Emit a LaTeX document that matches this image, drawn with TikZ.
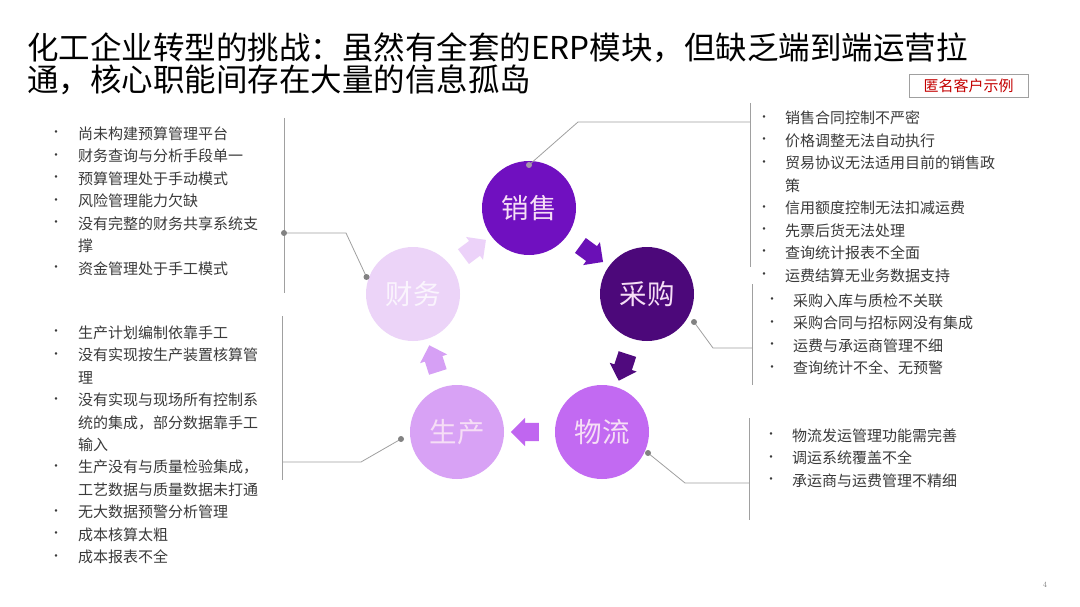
\documentclass[tikz,border=0pt]{standalone}
\usepackage{fontspec}
\newfontfamily\cjk{Noto Sans CJK SC}
\usetikzlibrary{shapes.arrows,calc}
\definecolor{cXS}{RGB}{112,16,192}
\definecolor{cCG}{RGB}{76,8,122}
\definecolor{cWL}{RGB}{194,106,242}
\definecolor{cSC}{RGB}{216,162,245}
\definecolor{cCW}{RGB}{236,212,248}
\definecolor{aXS}{RGB}{106,16,182}
\definecolor{aCG}{RGB}{80,10,126}
\definecolor{aWL}{RGB}{192,102,240}
\definecolor{aSC}{RGB}{214,160,245}
\definecolor{aCW}{RGB}{236,210,249}
\definecolor{ctxt}{RGB}{246,222,246}
\definecolor{ltxt}{RGB}{250,244,253}
\definecolor{lgray}{RGB}{160,160,160}
\definecolor{dgray}{RGB}{130,130,130}
\definecolor{pgray}{RGB}{165,150,170}
\definecolor{listtxt}{RGB}{58,58,58}
\definecolor{redtxt}{RGB}{196,0,0}
\newcommand\bul{\raisebox{2.6pt}{\fontsize{12}{12}\selectfont •}}
\begin{document}
\begin{tikzpicture}[x=1pt,y=-1pt,
  circ/.style={circle, minimum size=94pt, inner sep=0pt, font=\cjk\fontsize{27.5}{27.5}\selectfont},
  blk/.style={single arrow, minimum height=28pt, inner sep=0pt, single arrow head extend=5pt, sloped, allow upside down, draw=none},
  brk/.style={draw=lgray, line width=0.9pt},
  conn/.style={draw=lgray, line width=0.8pt},
  dotc/.style={fill=dgray},
  lst/.style={anchor=base west, inner sep=0pt, text=listtxt, font=\cjk\fontsize{15}{22.45}\selectfont},
  ttl/.style={anchor=base west, inner sep=0pt, text=black, font=\cjk\fontsize{31.5}{32}\selectfont}
]
\useasboundingbox (0,0) rectangle (1080,607);
\fill[white] (0,0) rectangle (1080,607);

% title
\node[ttl] (t1) at (27,60) {化工企业转型的挑战：虽然有全套的ERP模块，但缺乏端到端运营拉};
\node[ttl] (t2) at (27,92) {通，核心职能间存在大量的信息孤岛};
\node[draw=lgray, line width=0.8pt, fill=white, minimum width=119pt, minimum height=23pt, inner sep=0pt, text=redtxt, font=\cjk\fontsize{15}{15}\selectfont] (anon) at (968.5,85.5) {匿名客户示例};

% circles
\node[circ, fill=cXS, text=ctxt] (xs) at (529,208) {销售};
\node[circ, fill=cCG, text=ctxt] (cg) at (647,294) {采购};
\node[circ, fill=cWL, text=ctxt] (wl) at (602,432) {物流};
\node[circ, fill=cSC, text=ctxt] (sc) at (457,432) {生产};
\node[circ, fill=cCW, text=ltxt] (cw) at (413,294) {财务};

% block arrows
\path (xs) -- node[blk, fill=aXS] (a1) {\rule{0pt}{18pt}} (cg);
\path (cg) -- node[blk, fill=aCG] (a2) {\rule{0pt}{18pt}} (wl);
\path (wl) -- node[blk, fill=aWL] (a3) {\rule{0pt}{18pt}} (sc);
\path (sc) -- node[blk, fill=aSC] (a4) {\rule{0pt}{18pt}} (cw);
\path (cw) -- node[blk, fill=aCW] (a5) {\rule{0pt}{18pt}} (xs);

% brackets and leaders
\coordinate (l1t) at (284,118); \coordinate (l1b) at (284,293);
\coordinate (l1j) at (284,233); \coordinate (l1k) at (346,233); \coordinate (l1d) at (366.5,277);
\coordinate (l2t) at (282,316); \coordinate (l2b) at (282,480);
\coordinate (l2j) at (282,462); \coordinate (l2k) at (361,462); \coordinate (l2d) at (401,439);
\coordinate (r1t) at (750,103); \coordinate (r1b) at (750,267);
\coordinate (r1j) at (750,122); \coordinate (r1k) at (578,122); \coordinate (r1d) at (529,165);
\coordinate (r2t) at (752,284); \coordinate (r2b) at (752,385);
\coordinate (r2j) at (752,348); \coordinate (r2k) at (713,348); \coordinate (r2d) at (694,322);
\coordinate (r3t) at (749,418); \coordinate (r3b) at (749,520);
\coordinate (r3j) at (749,483); \coordinate (r3k) at (685,483); \coordinate (r3d) at (648,453);

\draw[brk] (l1t) -- (l1b);
\draw[brk] (l2t) -- (l2b);
\draw[brk] (r1t) -- (r1b);
\draw[brk] (r2t) -- (r2b);
\draw[brk] (r3t) -- (r3b);
\draw[conn] (l1j) -- (l1k) -- (l1d);
\draw[conn] (l2j) -- (l2k) -- (l2d);
\draw[conn] (r1j) -- (r1k) -- (r1d);
\draw[conn] (r2j) -- (r2k) -- (r2d);
\draw[conn] (r3j) -- (r3k) -- (r3d);
\fill[dotc] (l1j) circle (3pt);
\fill[dotc] (l1d) circle (3pt);
\fill[dotc] (l2d) circle (3pt);
\fill[fill=pgray] (r1d) circle (3pt);
\fill[dotc] (r2d) circle (3pt);
\fill[dotc] (r3d) circle (3pt);

% lists
\node[lst] (lfin) at (50,139.5) {\begin{tabular}[t]{@{}p{28pt}@{}l@{}}
\bul & 尚未构建预算管理平台\\
\bul & 财务查询与分析手段单一\\
\bul & 预算管理处于手动模式\\
\bul & 风险管理能力欠缺\\
\bul & 没有完整的财务共享系统支\\
     & 撑\\
\bul & 资金管理处于手工模式
\end{tabular}};

\node[lst] (lprod) at (50,338.3) {\begin{tabular}[t]{@{}p{28pt}@{}l@{}}
\bul & 生产计划编制依靠手工\\
\bul & 没有实现按生产装置核算管\\
     & 理\\
\bul & 没有实现与现场所有控制系\\
     & 统的集成，部分数据靠手工\\
     & 输入\\
\bul & 生产没有与质量检验集成，\\
     & 工艺数据与质量数据未打通\\
\bul & 无大数据预警分析管理\\
\bul & 成本核算太粗\\
\bul & 成本报表不全
\end{tabular}};

\node[lst] (lsale) at (758,123.9) {\begin{tabular}[t]{@{}p{27pt}@{}l@{}}
\bul & 销售合同控制不严密\\
\bul & 价格调整无法自动执行\\
\bul & 贸易协议无法适用目前的销售政\\
     & 策\\
\bul & 信用额度控制无法扣减运费\\
\bul & 先票后货无法处理\\
\bul & 查询统计报表不全面\\
\bul & 运费结算无业务数据支持
\end{tabular}};

\node[lst] (lpur) at (766,306.3) {\begin{tabular}[t]{@{}p{27pt}@{}l@{}}
\bul & 采购入库与质检不关联\\
\bul & 采购合同与招标网没有集成\\
\bul & 运费与承运商管理不细\\
\bul & 查询统计不全、无预警
\end{tabular}};

\node[lst] (llog) at (765,441.3) {\begin{tabular}[t]{@{}p{27pt}@{}l@{}}
\bul & 物流发运管理功能需完善\\
\bul & 调运系统覆盖不全\\
\bul & 承运商与运费管理不精细
\end{tabular}};

\node[text=dgray, font=\fontsize{8}{8}\selectfont, inner sep=0pt] (pg) at (1045,585) {4};
\end{tikzpicture}
\end{document}
